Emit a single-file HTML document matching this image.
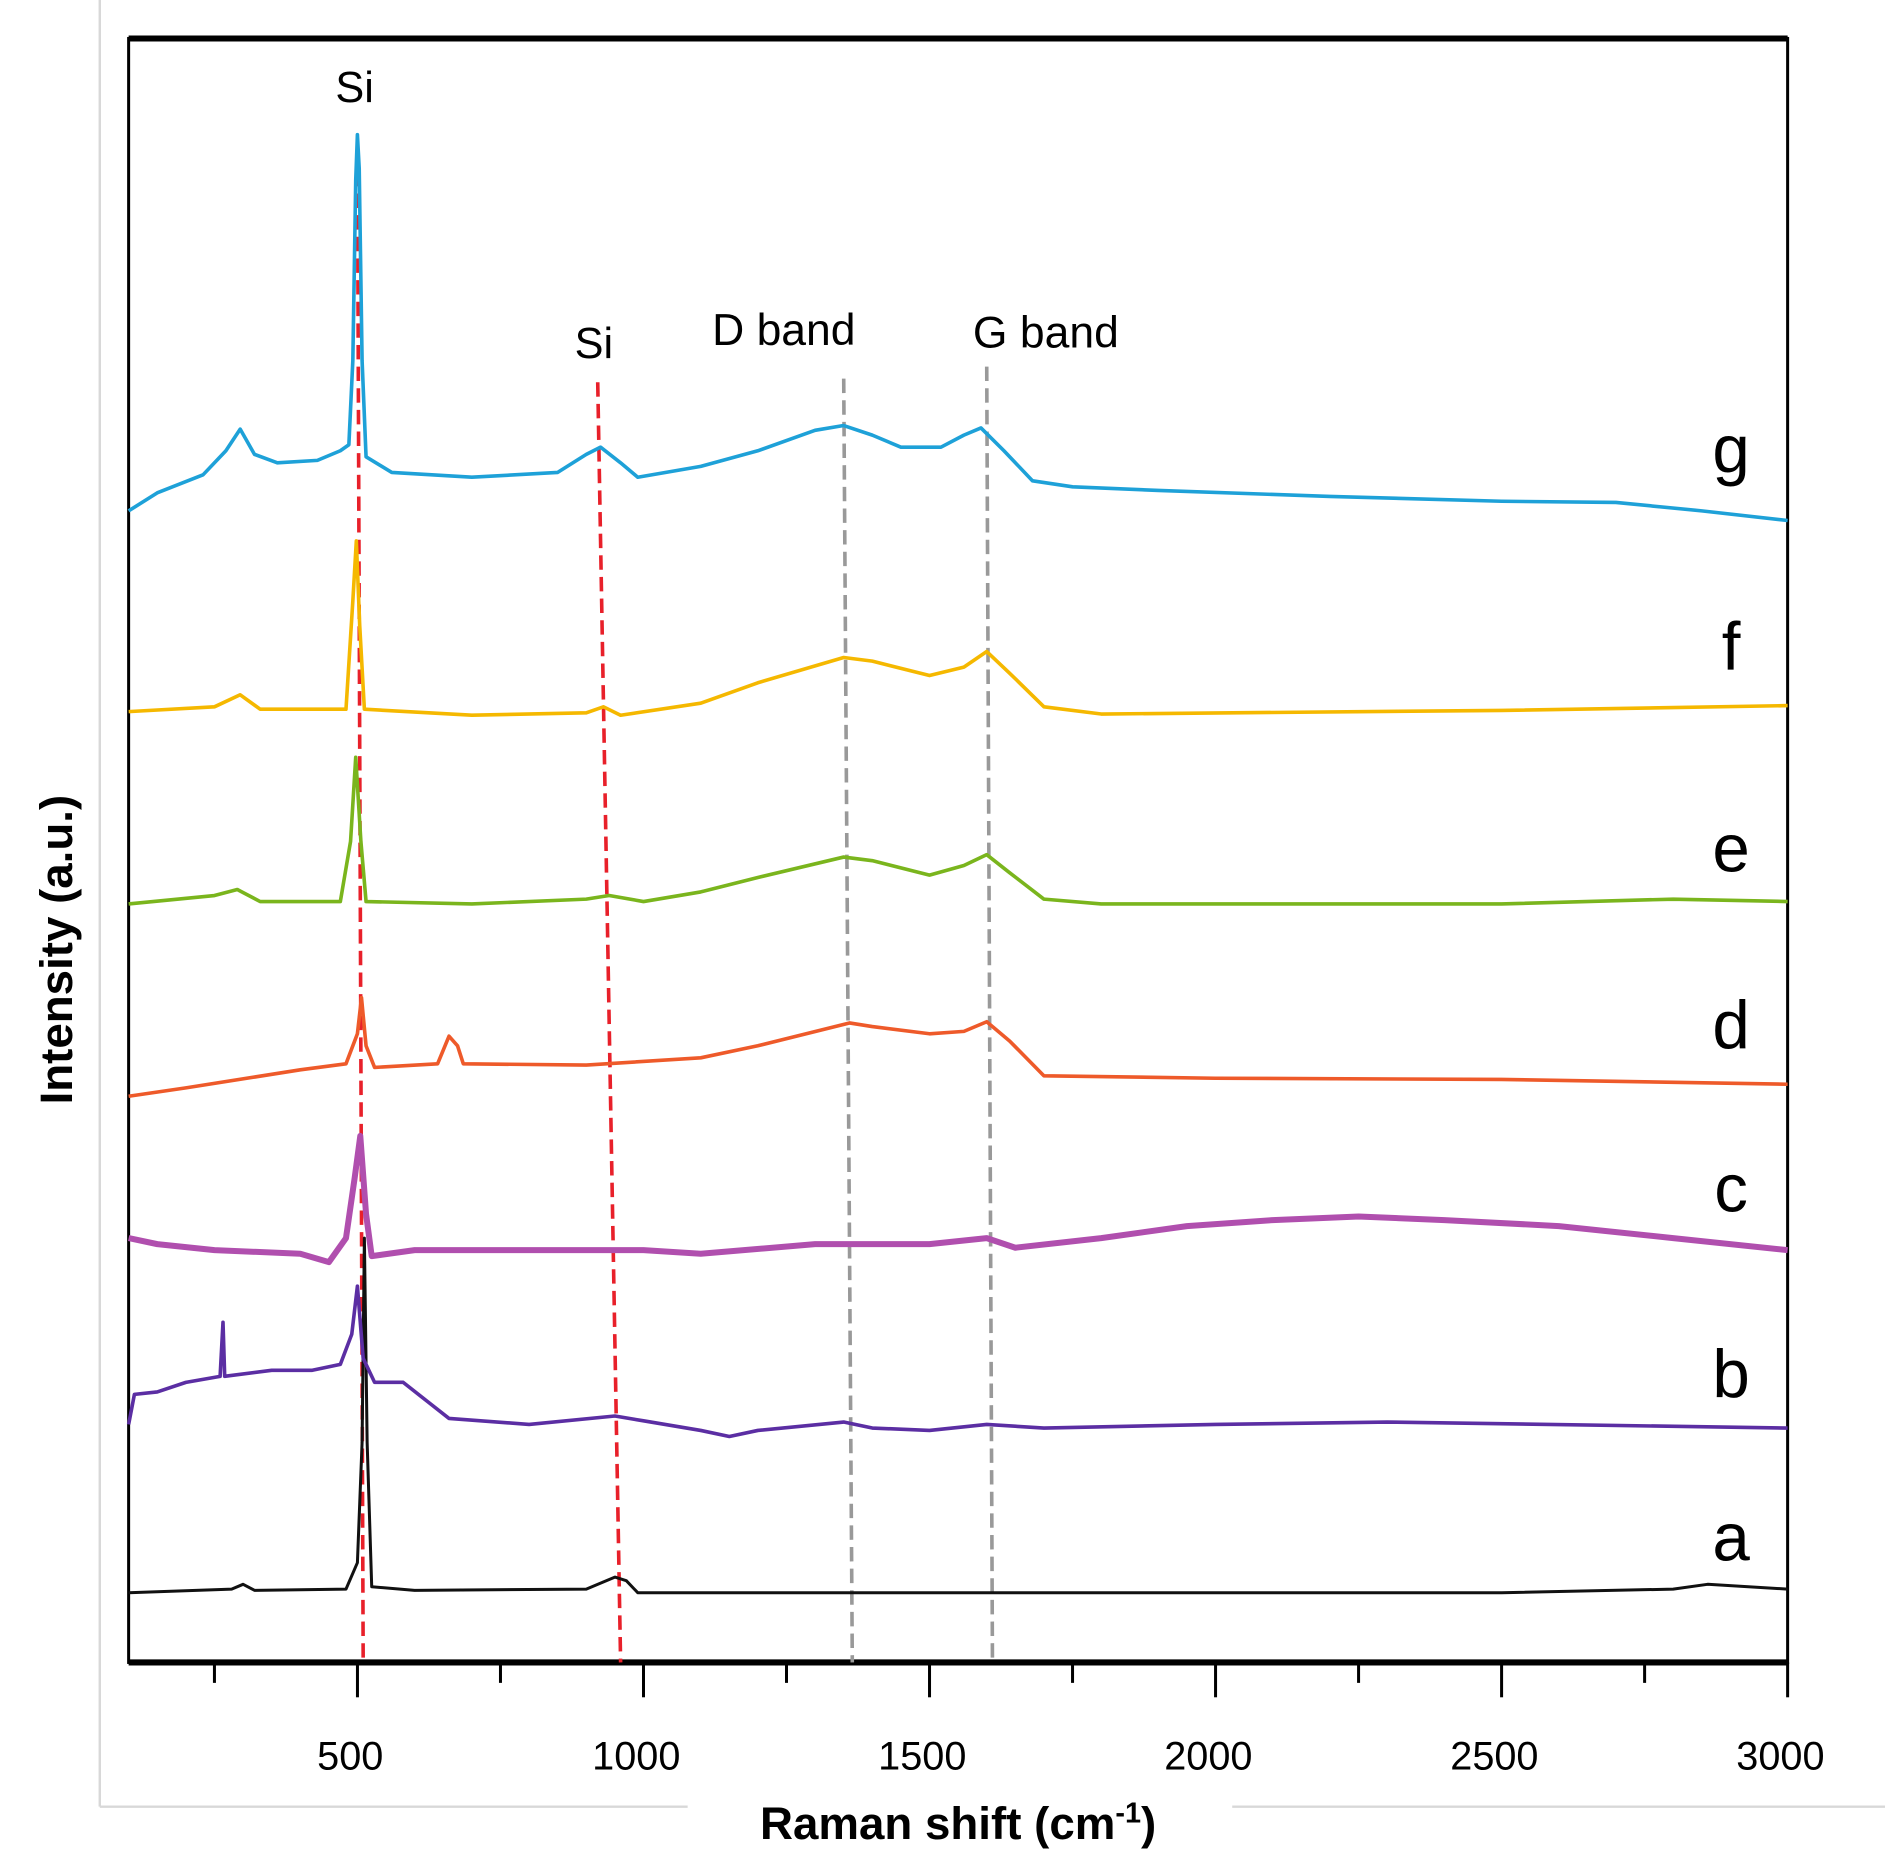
<!DOCTYPE html>
<html><head><meta charset="utf-8"><style>
html,body{margin:0;padding:0;background:#fff}
svg{display:block}
text{font-family:"Liberation Sans",Arial,sans-serif}
</style></head><body>
<svg id="chart" width="1885" height="1874" viewBox="0 0 1568 1559" preserveAspectRatio="none" xmlns="http://www.w3.org/2000/svg">
<g id="frame">
<line x1="83" y1="0" x2="83" y2="1503" stroke="#d8d8d8" stroke-width="2"/>
<line x1="83" y1="1503" x2="572" y2="1503" stroke="#d8d8d8" stroke-width="2"/>
<line x1="1025" y1="1503" x2="1568" y2="1503" stroke="#d8d8d8" stroke-width="2"/>
<rect x="107" y="32" width="1380" height="1351" fill="none" stroke="#000" stroke-width="2.5"/>
<line x1="107" y1="32" x2="1487" y2="32" stroke="#000" stroke-width="5"/>
<line x1="107" y1="1383" x2="1487" y2="1383" stroke="#000" stroke-width="5"/>
</g>
<g id="ticks"></g>
<g id="guides"></g>
<g id="series"></g>
<text x="295" y="85" font-size="36" text-anchor="middle">Si</text>
<text x="494" y="298" font-size="36" text-anchor="middle">Si</text>
<text x="652" y="287" font-size="37" text-anchor="middle">D band</text>
<text x="870" y="289" font-size="37" text-anchor="middle">G band</text>
<text x="797" y="1530" font-size="38" font-weight="bold" text-anchor="middle">Raman shift (cm<tspan dy="-14" font-size="24">-1</tspan><tspan dy="14">)</tspan></text>
<text transform="translate(60,790) rotate(-90)" font-size="38" font-weight="bold" text-anchor="middle">Intensity (a.u.)</text>
</svg>
<script>
const xTicks=[500,1000,1500,2000,2500,3000];
const xMinorTicks=[250,750,1250,1750,2250,2750];
const seriesNames=['a','b','c','d','e','f','g'];
const seriesColors=['#111111','#5b2ea3','#b04fae','#ee5a2a','#7ab51d','#f5b800','#1ea1d8'];
const seriesWidths=[2.5,3,5,3,3,3,3];
const seriesOffsets=[0,0,0,0,0,0,0];
const aX=[100,280,300,320,480,500,508,512,517,525,600,900,950,970,990,2500,2800,2860,3000];
const aY=[58,61,65,60,61,83,183,353,183,63,60,61,71,68,58,58,61,65,61];
const bX=[100,110,150,200,260,265,268,350,420,470,490,500,510,530,580,620,660,800,950,1000,1100,1150,1200,1350,1400,1500,1600,1700,2000,2300,3000];
const bY=[198,223,225,233,238,283,238,243,243,248,273,313,253,233,233,218,203,198,205,201,193,188,193,200,195,193,198,195,198,200,195];
const cX=[100,150,250,400,450,480,495,505,515,525,600,800,1000,1100,1300,1500,1600,1650,1800,1950,2100,2250,2400,2600,2800,3000];
const cY=[353,348,343,340,333,353,403,438,373,338,343,343,343,340,348,348,353,345,353,363,368,371,368,363,353,343];
const dX=[100,200,400,480,500,507,515,530,640,660,675,685,900,1100,1200,1360,1400,1500,1560,1600,1640,1700,2000,2500,3000];
const dY=[471,478,493,498,523,553,513,495,498,521,513,498,497,503,513,532,529,523,525,533,517,488,486,485,481];
const eX=[100,250,290,330,470,488,497,506,515,700,900,940,1000,1100,1200,1350,1400,1500,1560,1600,1640,1700,1800,2500,2800,3000];
const eY=[631,638,643,633,633,683,753,683,633,631,635,638,633,641,653,670,667,655,663,672,657,635,631,631,635,633];
const fX=[100,250,295,330,480,492,498,504,512,700,900,930,960,1100,1200,1350,1400,1500,1560,1600,1640,1700,1800,2500,3000];
const fY=[791,795,805,793,793,883,933,863,793,788,790,795,788,798,815,836,833,821,828,841,823,795,789,792,796];
const gX=[100,150,230,270,295,320,360,430,470,485,492,497,500,503,508,515,560,700,850,900,925,960,990,1100,1200,1300,1350,1400,1450,1520,1560,1590,1630,1680,1750,1900,2200,2500,2700,2850,3000];
const gY=[958,973,988,1008,1026,1005,998,1000,1008,1013,1083,1233,1271,1243,1083,1003,990,986,990,1005,1011,998,986,995,1008,1025,1029,1021,1011,1011,1021,1027,1008,983,978,975,970,966,965,958,950];
const labelY=[105,241,395,531,678,846,1010];
const siLine1=[[500,1258],[510,0]];
const siLine2=[[920,1065],[960,0]];
const dLine=[[1350,1068],[1365,0]];
const gLine=[[1600,1078],[1610,0]];

const NS='http://www.w3.org/2000/svg';
const xs=v=>107+(v-100)*(1380/2900);
const ys=v=>1383-v;
function mk(tag,attrs,parent){const e=document.createElementNS(NS,tag);for(const k in attrs)e.setAttribute(k,attrs[k]);parent.appendChild(e);return e;}
const tg=document.getElementById('ticks');
xTicks.forEach(t=>{
 const l=mk('line',{x1:xs(t),y1:1383,x2:xs(t),y2:1412,stroke:'#000','stroke-width':2.5},tg);
 
 
 const tx=mk('text',{x:xs(t)-6,y:1472,'font-size':33,'text-anchor':'middle'},tg);
 tx.textContent=t;
 
 
});
xMinorTicks.forEach(t=>{
 const l=mk('line',{x1:xs(t),y1:1383,x2:xs(t),y2:1400,stroke:'#000','stroke-width':2.5},tg);
 
 
});
const gd=document.getElementById('guides');
[[siLine1,'#e8202a','si-guide-1'],[siLine2,'#e8202a','si-guide-2'],[dLine,'#999','d-band-guide'],[gLine,'#999','g-band-guide']].forEach(([p,c,n])=>{
 const l=mk('line',{x1:xs(p[0][0]),y1:ys(p[0][1]),x2:xs(p[1][0]),y2:ys(p[1][1]),stroke:c,'stroke-width':3,'stroke-dasharray':'12,6'},gd);
 
 
});
const sg=document.getElementById('series');
const allX=[aX,bX,cX,dX,eX,fX,gX], allY=[aY,bY,cY,dY,eY,fY,gY];
allX.forEach((X,i)=>{
 const d=X.map((x,j)=>(j?'L':'M')+xs(x).toFixed(1)+','+ys(allY[i][j]+seriesOffsets[i]).toFixed(1)).join('');
 const p=mk('path',{d:d,fill:'none',stroke:seriesColors[i],'stroke-width':seriesWidths[i],'stroke-linejoin':'round'},sg);
 
 
 const t=mk('text',{x:1440,y:ys(labelY[i])+20,'font-size':56,'text-anchor':'middle'},sg);
 t.textContent=seriesNames[i];
 
 
});
</script>
</body></html>
